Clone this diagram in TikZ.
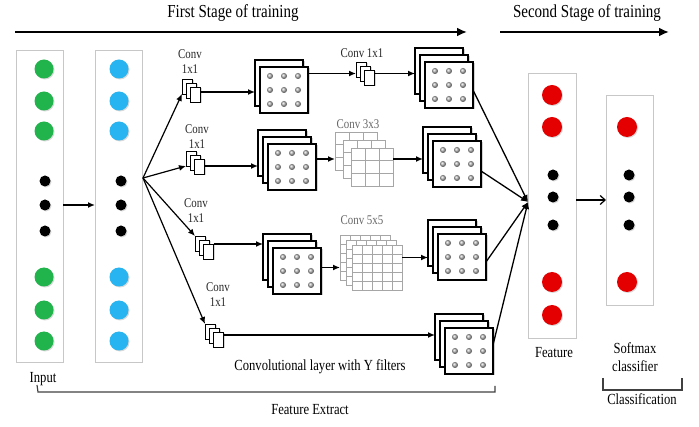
\documentclass[tikz,border=0pt]{standalone}
\usepackage{fontspec}
\setmainfont{Liberation Serif}[FakeStretch=0.82]
\usetikzlibrary{arrows.meta,shadows,calc}

\definecolor{dotgreen}{RGB}{34,180,76}
\definecolor{dotblue}{RGB}{40,180,240}
\definecolor{dotred}{RGB}{228,0,0}

% stack of feature-map sheets: name, x and y of the front sheet, number of sheets
\newcommand\fmapstack[4]{%
  \foreach \k in {#4,...,1}{%
    \node[sheet] (#1-\k) at ({#2-5*(\k-1)},{#3-7*(\k-1)}) {};
  }
  \foreach \bx in {10,24,38}{%
    \foreach \by in {9,23,37}{%
      \shade[ball color=black!30] ($(#1-1.north west)+(\bx,\by)$) circle (3pt);
    }
  }
}

% small stack of three 1x1 kernels: name, x and y of the front kernel
\newcommand\kernelicon[3]{%
  \foreach \k in {3,2,1}{%
    \node[kbox] (#1-\k) at ({#2-4*(\k-1)},{#3-4*(\k-1)}) {};
  }
}

% three gridded filter layers: name, x, y of the back layer, cells, width, height, dx, dy
\newcommand\convgrid[8]{%
  \foreach \k in {3,2,1}{%
    \node[gridlayer, minimum width=#5pt, minimum height=#6pt]
      (#1-\k) at ({#2+#7*(3-\k)},{#3+#8*(3-\k)}) {};
    \foreach \i in {1,...,\numexpr#4-1\relax}{%
      \draw[gridline] ($(#1-\k.north west)+({\i*#5/#4},0)$) -- ($(#1-\k.south west)+({\i*#5/#4},0)$);
      \draw[gridline] ($(#1-\k.north west)+(0,{\i*#6/#4})$) -- ($(#1-\k.north east)+(0,{\i*#6/#4})$);
    }
  }
}

\begin{document}
\begin{tikzpicture}[x=1pt,y=-1pt,
  every node/.style={inner sep=0pt, outer sep=0pt},
  column/.style={draw=black!22, line width=0.8pt, fill=white, anchor=north west,
    drop shadow={shadow xshift=1pt, shadow yshift=-1pt, opacity=0.2}},
  neuron/.style={circle, fill=#1,
    drop shadow={shadow xshift=1pt, shadow yshift=-1pt, opacity=0.3}},
  bigdot/.style={minimum size=19pt},
  smalldot/.style={minimum size=11pt},
  sheet/.style={draw=black, line width=1.2pt, fill=white, anchor=north west,
    minimum width=48pt, minimum height=46pt,
    drop shadow={shadow xshift=1.5pt, shadow yshift=-1.5pt, opacity=0.35}},
  kbox/.style={draw=black, line width=0.9pt, fill=white, anchor=north west,
    minimum width=10.5pt, minimum height=15pt,
    drop shadow={shadow xshift=1pt, shadow yshift=-1pt, opacity=0.3}},
  gridlayer/.style={draw=black!35, line width=0.6pt, fill=white, anchor=north west},
  gridline/.style={draw=black!35, line width=0.6pt},
  conn/.style={line width=1.4pt, -{Latex[length=7pt,width=6pt]}},
  stagearrow/.style={line width=2.8pt, -{Latex[length=10pt,width=9pt]}},
  bracket/.style={draw=black!75, line width=1.2pt},
  title/.style={font=\fontsize{18.3}{21}\selectfont},
  lbl/.style={font=\fontsize{15.4}{18}\selectfont},
  small/.style={font=\fontsize{13.3}{15}\selectfont, align=center, text=black!85},
]
\useasboundingbox (0,0) rectangle (699,427);

% ---------- training stages ----------
\node[title] (stage1) at (233,13) {First Stage of training};
\node[title] (stage2) at (587,13) {Second Stage of training};
\coordinate (s1a) at (15,32);
\coordinate (s1b) at (467,32);
\coordinate (s2a) at (500,32);
\coordinate (s2b) at (669,32);
\draw[stagearrow] (s1a) -- (s1b);
\draw[stagearrow] (s2a) -- (s2b);

% ---------- input and first layer ----------
\node[column, minimum width=47pt, minimum height=312pt] (incol) at (16,50) {};
\node[column, minimum width=47pt, minimum height=312pt] (hidcol) at (95,50) {};
\foreach \y [count=\i] in {69,101,131,277,310,341}{
  \node[neuron=dotgreen, bigdot] (in\i) at (44,\y) {};
  \node[neuron=dotblue, bigdot] (hd\i) at (119,\y) {};
}
\foreach \y [count=\i] in {181,205,231}{
  \node[neuron=black, smalldot] (inb\i) at (45,\y) {};
  \node[neuron=black, smalldot] (hdb\i) at (121,\y) {};
}
\draw[conn, line width=2pt] (incol.east |- inb2) -- (hidcol.west |- inb2);

% ---------- inception branches ----------
\coordinate (fan) at (143,178);

\kernelicon{Ka}{190}{87}
\kernelicon{Kb}{194}{159}
\kernelicon{Kc}{203}{244}
\kernelicon{Kd}{213}{332}
\kernelicon{Ke}{364}{70}

\node[small] (ca) at (190,62) {Conv\\1x1};
\node[small] (cb) at (197,137) {Conv\\1x1};
\node[small] (cc) at (196,211) {Conv\\1x1};
\node[small] (cd) at (218,295) {Conv\\1x1};
\node[small] (ce) at (362,53) {Conv 1x1};
\node[small, text=black!60] (cf) at (358,124) {Conv 3x3};
\node[small, text=black!60] (cg) at (362,220) {Conv 5x5};

\fmapstack{Ma}{260}{67}{2}
\fmapstack{Mb}{268}{144}{3}
\fmapstack{Mc}{273}{248}{3}

\convgrid{Ga}{335}{132}{3}{42}{38}{8}{8}
\convgrid{Gb}{340}{235}{5}{50}{45}{6}{5}

\fmapstack{Oa}{425}{62}{3}
\fmapstack{Ob}{433}{141}{3}
\fmapstack{Oc}{438}{234}{3}
\fmapstack{Od}{445}{328}{3}

% fan-out from the first layer to the 1x1 convolutions
\draw[conn, line width=1.2pt] (fan) -- (Ka-3.south west);
\draw[conn, line width=1.2pt] (fan) -- (Kb-3.south west);
\draw[conn, line width=1.2pt] (fan) -- (Kc-3.north west);
\draw[conn, line width=1.2pt] (fan) -- (Kd-3.north west);

% branch 1: 1x1 -> maps -> 1x1 -> maps
\coordinate (pa) at ($(Ka-1.north east)+(0,5)$);
\draw[conn] (pa) -- (pa -| Ma-2.west);
\draw[conn] (Ma-1.east |- Ke-2.center) -- (Ke-3.west |- Ke-2.center);
\draw[conn] (Ke-1.east |- Ke-2.center) -- (Oa-3.west |- Ke-2.center);

% branch 2: 1x1 -> maps -> 3x3 -> maps
\coordinate (pb) at ($(Kb-1.north east)+(0,7)$);
\draw[conn] (pb) -- (pb -| Mb-3.west);
\draw[conn] (Mb-1.east |- Ga-2.center) -- (Ga-3.west |- Ga-2.center);
\draw[conn] (Ga-1.east |- Ga-2.center) -- (Ob-3.west |- Ga-2.center);

% branch 3: 1x1 -> maps -> 5x5 -> maps
\coordinate (pc) at ($(Kc-1.north east)+(0,0)$);
\draw[conn] (pc) -- (pc -| Mc-3.west);
\draw[conn] (Mc-1.east |- Gb-1.center) -- (Gb-3.west |- Gb-1.center);
\draw[conn] (Gb-1.east |- Gb-3.center) -- (Oc-3.west |- Gb-3.center);

% branch 4: 1x1 -> maps
\coordinate (pd) at ($(Kd-1.north east)+(0,3)$);
\draw[conn] (pd) -- (pd -| Od-3.west);

\node[lbl] (convlbl) at (320,367) {Convolutional layer with Y filters};

% ---------- feature vector and classifier ----------
\node[column, minimum width=48pt, minimum height=265pt] (featcol) at (528,73) {};
\node[column, minimum width=47pt, minimum height=210pt] (clscol) at (606,95) {};
\foreach \y [count=\i] in {95,127,282,315}{
  \node[neuron=dotred, bigdot, minimum size=20pt] (ft\i) at (552,\y) {};
}
\foreach \y [count=\i] in {175,197,225}{
  \node[neuron=black, smalldot] (ftb\i) at (553,\y) {};
  \node[neuron=black, smalldot] (clb\i) at (629,\y) {};
}
\node[neuron=dotred, bigdot, minimum size=20pt] (cl1) at (627,127) {};
\node[neuron=dotred, bigdot, minimum size=20pt] (cl2) at (627,282) {};

\coordinate (merge) at (featcol.west |- 0,202);
\draw[conn, line width=1.3pt] ($(Oa-1.north east)+(0,28)$) -- (merge);
\draw[conn, line width=1.3pt] ($(Ob-1.north east)+(0,30)$) -- (merge);
\draw[conn, line width=1.3pt] ($(Oc-1.north east)+(0,28)$) -- (merge);
\draw[conn, line width=1.3pt] ($(Od-1.north east)+(0,17)$) -- (merge);

\draw[line width=1.2pt, -{Straight Barb[length=5pt,width=9pt]}]
  (featcol.east |- 0,200) -- (clscol.west |- 0,200);

% ---------- labels and brackets ----------
\node[lbl] (inlbl) at (43,379) {Input};
\node[lbl] (ftlbl) at (554,353) {Feature};
\node[lbl, align=center, font=\fontsize{15.4}{18}\selectfont] (smlbl) at (635,357) {Softmax\\classifier};

\coordinate (fe1) at (37,385);
\coordinate (fe2) at (38,392);
\coordinate (fe3) at (495,392);
\coordinate (fe4) at (495,386);
\draw[bracket] (fe1) -- (fe2) -- (fe3) -- (fe4);
\node[lbl] (felbl) at (310,410) {Feature Extract};

\coordinate (cb1) at (603,378);
\coordinate (cb2) at (603,390);
\coordinate (cb3) at (682,390);
\coordinate (cb4) at (682,378);
\draw[bracket] (cb1) -- (cb2) -- (cb3) -- (cb4);
\node[lbl] (cllbl) at (642,399) {Classification};
\end{tikzpicture}
\end{document}
